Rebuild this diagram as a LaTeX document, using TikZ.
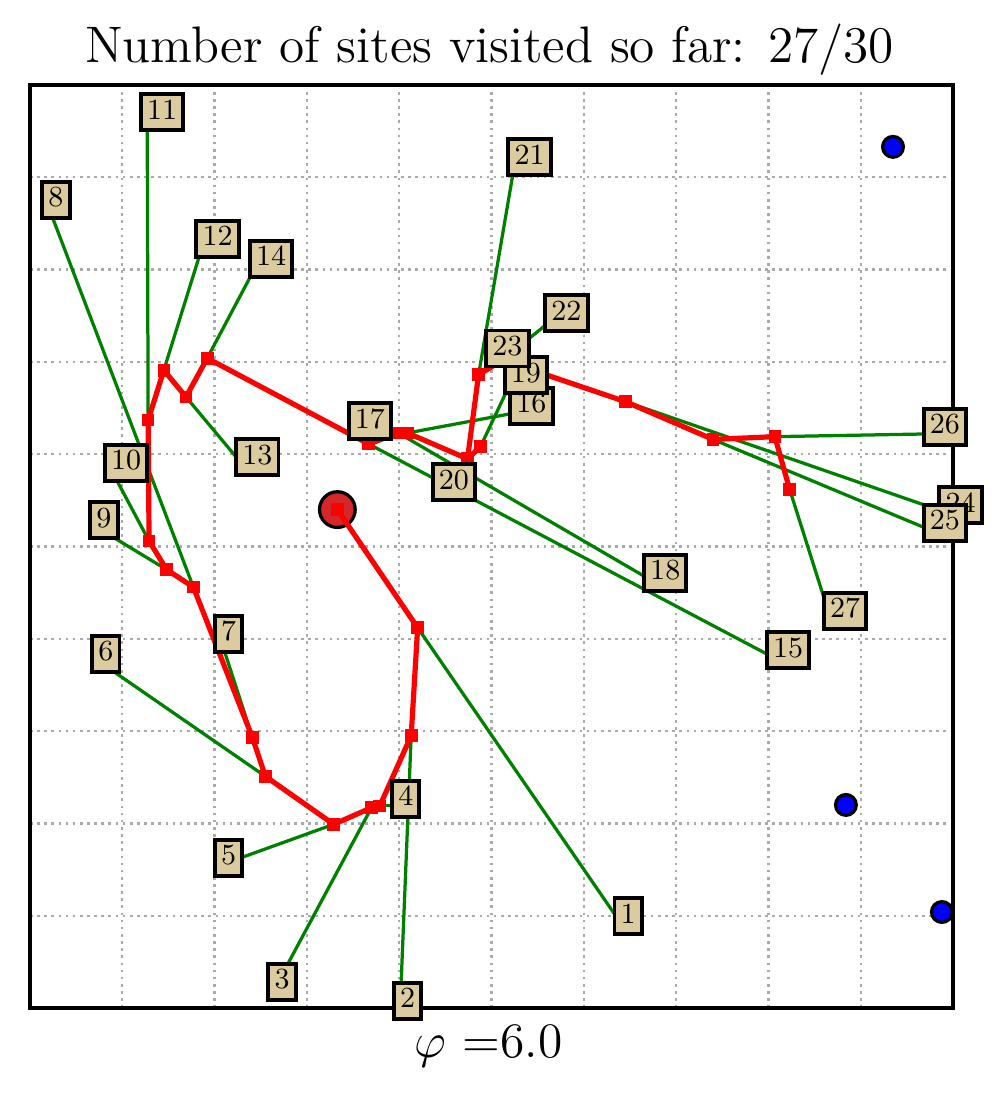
\documentclass[tikz,border=0pt]{standalone}
\usepackage{amsmath}
\usepackage{amssymb}
\usepackage{color}
\usepackage{tikz}
\usetikzlibrary{calc}

\definecolor{sitetan}{RGB}{220,203,158}
\definecolor{linkgreen}{RGB}{0,128,0}
\definecolor{depotred}{RGB}{214,39,40}
\definecolor{gridgray}{RGB}{170,170,170}

\begin{document}
\begin{tikzpicture}[x=1cm,y=1cm,
      gridline/.style={gridgray, line width=0.7pt, dash pattern=on 0.8pt off 1.4pt},
      link/.style={linkgreen, line width=1pt},
      tour/.style={red, line width=1.6pt, line join=round},
      visit/.style={rectangle, fill=red, inner sep=0pt, minimum size=3.9pt},
      site/.style={rectangle, draw=black, line width=1.2pt, fill=sitetan, inner xsep=1.9pt, inner ysep=1.7pt, text height=6pt, text depth=1.7pt, font=\fontsize{9}{10}\selectfont, anchor=base west, xshift=-2.5pt},
      depot/.style={circle, draw=black, line width=1pt, fill=depotred, inner sep=0pt, minimum size=11pt},
      relay/.style={circle, draw=black, line width=1pt, fill=blue, inner sep=0pt, minimum size=6.4pt},
      caption/.style={font=\Large, anchor=base, transform shape}]
      \useasboundingbox (-0.325,-0.921) rectangle (10.499,10.921);
      \draw[gridline] (0,0) grid (10,10);
      \draw[line width=1pt] (0,0) rectangle (10,10);
      \foreach \n/\x/\y in {1/6.40/0.92, 2/4.01/0.00, 3/2.65/0.21, 4/3.99/2.19, 5/2.07/1.55, 6/0.74/3.76, 7/2.07/3.98, 8/0.20/8.68, 9/0.72/5.21, 10/0.88/5.83, 11/1.27/9.63, 12/1.87/8.26, 13/2.30/5.89, 14/2.45/8.04, 15/8.05/3.80, 16/5.27/6.45, 17/3.52/6.28, 18/6.72/4.64, 19/5.21/6.78, 20/4.43/5.62, 21/5.25/9.14, 22/5.65/7.45, 23/5.01/7.07, 24/9.92/5.37, 25/9.75/5.18, 26/9.75/6.22, 27/8.67/4.23}
            \coordinate (p\n) at (\x,\y);
      \foreach \n/\x/\y in {1/4.20/4.12, 2/4.13/2.95, 3/3.70/2.17, 4/3.79/2.19, 5/3.29/1.99, 6/2.55/2.51, 7/2.41/2.93, 8/1.77/4.56, 9/1.48/4.75, 10/1.29/5.06, 11/1.28/6.37, 12/1.45/6.91, 13/1.69/6.62, 14/1.92/7.04, 15/3.67/6.11, 16/4.09/6.23, 17/3.99/6.23, 18/3.99/6.23, 19/4.88/6.08, 20/4.74/5.95, 21/4.86/6.86, 22/5.12/7.02, 23/5.12/7.02, 24/6.45/6.57, 25/7.40/6.16, 26/8.07/6.19, 27/8.23/5.62}
            \coordinate (v\n) at (\x,\y);
      \foreach \n in {1,...,27} \draw[link] (p\n) -- (v\n);
      \node[depot] (depot) at (3.33,5.40) {};
      \draw[tour] (depot.center) \foreach \n in {1,2,4,3,5,6,7,8,9,10,11,12,13,14,15,18,16,20,19,20,21,22,24,25,26,27} {-- (v\n)};
      \node[visit] (m0) at (depot.center) {};
      \foreach \n in {1,...,27} \node[visit] (m\n) at (v\n) {};
      \foreach \n in {1,...,27} \node[site] (b\n) at (p\n) {\n};
      \node[relay] (r1) at (9.35,9.33) {};
      \node[relay] (r2) at (8.84,2.20) {};
      \node[relay] (r3) at (9.88,1.04) {};
      \node[caption, scale=1.1] (title) at (4.98,10.24) {Number of sites visited so far: 27/30};
      \node[caption, scale=1.06] (phi) at (4.97,-0.54) {$\varphi$ =6.0};
\end{tikzpicture}
\end{document}
